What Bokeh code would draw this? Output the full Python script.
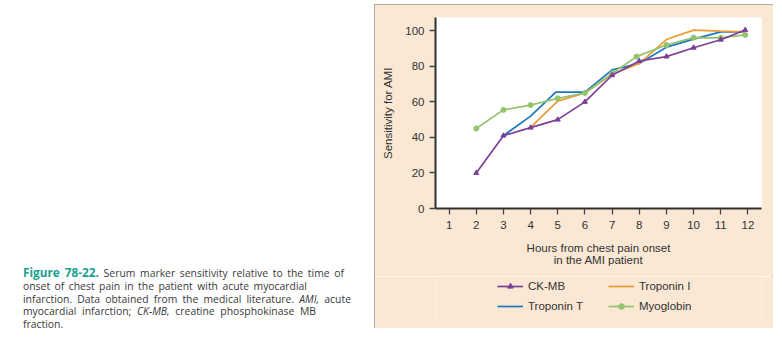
from bokeh.plotting import figure
from bokeh.models import Div, Legend, LegendItem, FixedTicker, Range1d
from bokeh.layouts import row, column
from bokeh.embed import file_html
from bokeh.resources import INLINE

# ---- data ----
x_ticks = [1, 2, 3, 4, 5, 6, 7, 8, 9, 10, 11, 12]
y_ticks = [0, 20, 40, 60, 80, 100]

ckmb_hours = [2, 3, 4, 5, 6, 7, 8, 9, 10, 11, 11.9]
ckmb = [20, 41, 45.5, 50, 60, 75, 83, 85.5, 90.5, 95, 100.5]

myo_hours = [2, 3, 4, 5, 6, 7, 7.9, 9, 10, 11, 11.9]
myoglobin = [45, 55.5, 58.2, 62, 65, 76, 85.5, 92, 96.2, 96, 97.7]

tnt_hours = [3, 4, 4.93, 6, 7, 8, 9, 10, 11, 11.9]
troponin_t = [41, 52, 65.5, 65.5, 78, 81.6, 90.8, 95.3, 99.4, 99.4]

tni_hours = [4, 5, 6, 7, 8, 9, 10, 11, 11.9]
troponin_i = [45.6, 60.4, 65, 75.6, 81.6, 95.1, 100.4, 99.8, 99.4]

caption_title = "Figure 78-22."
caption_lines = [
    'Serum marker sensitivity relative to the time of',
    'onset of chest pain in the patient with acute myocardial',
    'infarction. Data obtained from the medical literature. <i>AMI,</i> acute',
    'myocardial infarction; <i>CK-MB,</i> creatine phosphokinase MB',
    'fraction.',
]
caption_widths = [321, 284, 328, 293, None]

PURPLE = "#7b3f95"
ORANGE = "#ec9a34"
BLUE = "#1f77bf"
GREEN = "#93c46d"
BEIGE = "#fae8d4"
FONT = "Liberation Sans"
LW = 1.7


def draw_series(fig, visible=True):
    r_tnt = fig.line(tnt_hours, troponin_t, line_color=BLUE, line_width=LW, visible=visible)
    r_tni = fig.line(tni_hours, troponin_i, line_color=ORANGE, line_width=LW, visible=visible)
    r_myo_l = fig.line(myo_hours, myoglobin, line_color=GREEN, line_width=LW, visible=visible)
    r_myo_m = fig.scatter(myo_hours, myoglobin, marker="circle", size=5,
                          fill_color=GREEN, line_color=GREEN, visible=visible)
    r_ck_l = fig.line(ckmb_hours, ckmb, line_color=PURPLE, line_width=LW, visible=visible)
    r_ck_m = fig.scatter(ckmb_hours, ckmb, marker="triangle", size=5,
                         fill_color=PURPLE, line_color=PURPLE, visible=visible)
    return dict(tnt=[r_tnt], tni=[r_tni], myo=[r_myo_l, r_myo_m], ck=[r_ck_l, r_ck_m])


# ---- main chart ----
p = figure(width=399, height=272,
           x_range=Range1d(0.5, 12.5), y_range=Range1d(0, 107.5),
           output_backend="svg", toolbar_location=None,
           min_border_left=61, min_border_right=12, min_border_top=13,
           min_border_bottom=68,
           border_fill_color=BEIGE, background_fill_color="white",
           outline_line_color=None, margin=0)
p.grid.visible = False

for ax in (p.xaxis[0], p.yaxis[0]):
    ax.axis_line_width = 2
    ax.axis_line_color = "#2e2e2e"
    ax.major_tick_in = 0
    ax.major_tick_out = 6
    ax.major_tick_line_color = "#444444"
    ax.major_tick_line_width = 1.3
    ax.minor_tick_line_color = None
    ax.major_label_text_font = FONT
    ax.major_label_text_font_size = "11.5px"
    ax.major_label_text_color = "#333333"
    ax.axis_label_text_font = FONT
    ax.axis_label_text_font_size = "11.5px"
    ax.axis_label_text_font_style = "normal"
    ax.axis_label_text_color = "#333333"
    ax.axis_label_text_line_height = 1.05

p.xaxis.ticker = FixedTicker(ticks=x_ticks)
p.yaxis.ticker = FixedTicker(ticks=y_ticks)
p.xaxis.major_label_standoff = 6
p.yaxis.major_label_standoff = 5
p.xaxis.axis_label = "Hours from chest pain onset\nin the AMI patient"
p.xaxis.axis_label_standoff = 10
p.yaxis.axis_label = "Sensitivity for AMI"
p.yaxis.axis_label_standoff = 8

draw_series(p)

# ---- legend strip (same series, hidden, only feeding the legend) ----
lf = figure(width=399, height=52, x_range=Range1d(0.5, 12.5), y_range=Range1d(0, 107.5),
            output_backend="svg", toolbar_location=None,
            x_axis_type=None, y_axis_type=None,
            min_border_left=0, min_border_right=0, min_border_top=0, min_border_bottom=0,
            border_fill_color=BEIGE, background_fill_color=BEIGE,
            outline_line_color=None, margin=0)
lf.grid.visible = False
rr = draw_series(lf, visible=False)

common = dict(orientation="vertical", padding=0, margin=0, spacing=6,
              glyph_width=26, glyph_height=14, label_height=14,
              label_standoff=5, label_text_font=FONT,
              label_text_font_size="11.5px", label_text_color="#333333",
              border_line_color=None, background_fill_alpha=0,
              inactive_fill_alpha=0)
leg1 = Legend(items=[LegendItem(label="CK-MB", renderers=rr["ck"]),
                     LegendItem(label="Troponin T", renderers=rr["tnt"])],
              location=(62, 15), **common)
leg2 = Legend(items=[LegendItem(label="Troponin I", renderers=rr["tni"]),
                     LegendItem(label="Myoglobin", renderers=rr["myo"])],
              location=(173, 15), **common)
lf.add_layout(leg1)
lf.add_layout(leg2)

panel = column(p, lf, spacing=0, margin=(4, 0, 0, 0),
               styles={"outline": "1px solid #9b958e", "outline-offset": "-1px"})

# ---- caption ----
parts = []
for i, (txt, w) in enumerate(zip(caption_lines, caption_widths)):
    if i == 0:
        txt = ('<span style="color:#17a08e; font-weight:bold; font-size:11.8px;">'
               + caption_title + '</span> ' + txt)
    if w is None:
        parts.append('<div style="white-space:nowrap;">' + txt + '</div>')
    else:
        parts.append('<div style="width:%dpx; white-space:nowrap; text-align:justify; '
                     'text-align-last:justify;">%s</div>' % (w, txt))
html = ('<div style="padding:266px 0 0 23px; font-family:\'Open Sans\'; font-size:10.4px; '
        'line-height:12.8px; color:#3a3a3a;">' + ''.join(parts) + '</div>')
cap = Div(text=html, width=374, height=340, margin=0)

layout = row(cap, panel, spacing=0)
open("out.html", "w").write(file_html(layout, INLINE))
